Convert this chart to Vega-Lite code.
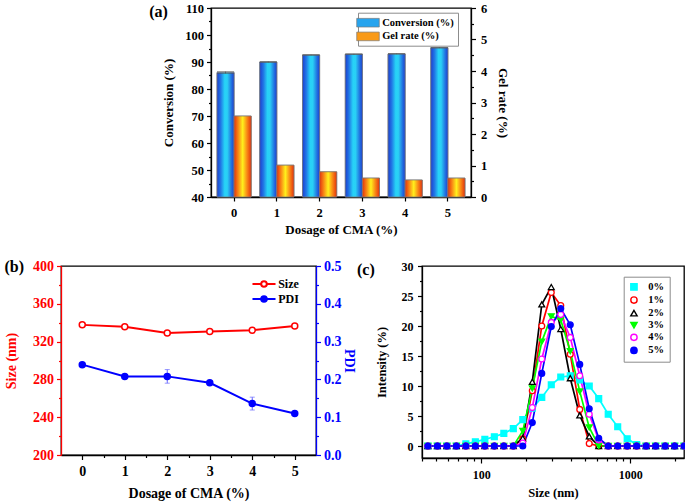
{
  "$schema": "https://vega.github.io/schema/vega-lite/v6.json",
  "padding": {"left": 3, "top": 1, "right": 0, "bottom": 0},
  "spacing": 20,
  "resolve": {"scale": {"fill": "independent", "stroke": "independent", "shape": "independent"}, "legend": {"fill": "independent", "stroke": "independent", "shape": "independent"}},
  "config": {
    "font": "Liberation Serif",
    "view": {"stroke": "#000000", "strokeWidth": 1.3},
    "axis": {"labelFont": "Liberation Serif", "titleFont": "Liberation Serif", "labelFontWeight": "bold", "titleFontWeight": "bold", "labelColor": "#000000", "titleColor": "#000000", "domainColor": "#000000", "tickColor": "#000000", "domainWidth": 1.3, "tickWidth": 1.2, "grid": false, "labelOverlap": false, "labelFlush": false, "labelBound": false},
    "legend": {"labelFont": "Liberation Serif", "labelFontWeight": "bold", "labelColor": "#000000"},
    "title": {"font": "Liberation Serif", "fontWeight": "bold", "fontSize": 16, "anchor": "start", "frame": "bounds", "color": "#000000", "baseline": "bottom", "offset": 0}
  },
  "vconcat": [
    {
      "spacing": 0,
      "resolve": {"scale": {"fill": "independent", "stroke": "independent", "shape": "independent"}, "legend": {"fill": "independent", "stroke": "independent", "shape": "independent"}},
      "hconcat": [
        {"width": 87, "height": 10, "data": {"values": []}, "mark": "point", "view": {"stroke": null}},
        {
          "width": 260, "height": 189,
          "title": {"text": "(a)", "dx": -13.5, "dy": 22},
          "data": {"values": [
            {"dosage": "0", "series": "Conversion (%)", "value": 86.1, "err": 0.35},
            {"dosage": "1", "series": "Conversion (%)", "value": 90.0, "err": 0.15},
            {"dosage": "2", "series": "Conversion (%)", "value": 92.6, "err": 0.1},
            {"dosage": "3", "series": "Conversion (%)", "value": 92.9, "err": 0.1},
            {"dosage": "4", "series": "Conversion (%)", "value": 93.0, "err": 0.1},
            {"dosage": "5", "series": "Conversion (%)", "value": 95.3, "err": 0.15},
            {"dosage": "0", "series": "Gel rate (%)", "value": 2.57, "err": 0},
            {"dosage": "1", "series": "Gel rate (%)", "value": 1.01, "err": 0},
            {"dosage": "2", "series": "Gel rate (%)", "value": 0.8, "err": 0},
            {"dosage": "3", "series": "Gel rate (%)", "value": 0.6, "err": 0},
            {"dosage": "4", "series": "Gel rate (%)", "value": 0.54, "err": 0},
            {"dosage": "5", "series": "Gel rate (%)", "value": 0.6, "err": 0}
          ]},
          "encoding": {
            "x": {"field": "dosage", "type": "ordinal", "scale": {"paddingInner": 0.2, "paddingOuter": 0.14}, "axis": {"title": "Dosage of CMA (%)", "labelAngle": 0, "tickSize": 4, "labelPadding": 5, "titlePadding": 5, "labelFontSize": 12.5, "titleFontSize": 13}},
            "xOffset": {"field": "series", "type": "nominal", "scale": {"domain": ["Conversion (%)", "Gel rate (%)"], "paddingInner": 0, "paddingOuter": 0}}
          },
          "layer": [
            {
              "transform": [{"filter": "datum.series === 'Conversion (%)'"}],
              "encoding": {"y": {"field": "value", "type": "quantitative", "title": "Conversion (%)", "scale": {"domain": [40, 110], "zero": false, "nice": false},
                "axis": {"orient": "left", "values": [40,45,50,55,60,65,70,75,80,85,90,95,100,105,110], "labelExpr": "datum.value % 10 === 0 ? format(datum.value,'d') : ''", "tickSize": {"condition": {"test": "datum.value % 10 === 0", "value": 4.5}, "value": 2.5}, "labelPadding": 3, "titlePadding": 9, "labelFontSize": 12.5, "titleFontSize": 13}}},
              "layer": [
                {"mark": {"type": "bar", "stroke": "#7a7a7a", "strokeWidth": 0.7},
                 "encoding": {"y2": {"datum": 40},
                   "fill": {"field": "series", "type": "nominal",
                     "scale": {"domain": ["Conversion (%)", "Gel rate (%)"], "range": ["#27a4ee", "#f99a18"]},
                     "legend": {"title": null, "orient": "none", "legendX": 147, "legendY": 4.7, "symbolType": "M-1.88,-0.72H1.88V0.72H-1.88Z", "symbolSize": 144, "symbolStrokeColor": "#7a7a7a", "symbolStrokeWidth": 0.7, "labelFontSize": 10.5, "labelOffset": 7.7, "rowPadding": 0.7, "padding": 3.5, "strokeColor": "#8c8c8c", "fillColor": "#ffffff"}}}},
                {"mark": {"type": "bar", "stroke": "#7a7a7a", "strokeWidth": 0.7,
                   "fill": {"gradient": "linear", "x1": 0, "y1": 0, "x2": 1, "y2": 0, "stops": [{"offset": 0, "color": "#1c3fd0"}, {"offset": 0.22, "color": "#2178e6"}, {"offset": 0.45, "color": "#27d2f7"}, {"offset": 0.6, "color": "#2ad0f5"}, {"offset": 0.85, "color": "#2170e0"}, {"offset": 1, "color": "#1c3fd0"}]}},
                 "encoding": {"y2": {"datum": 40}}},
                {"mark": {"type": "errorbar", "ticks": true, "color": "#555555", "thickness": 0.8}, "encoding": {"yError": {"field": "err"}}}
              ]
            },
            {
              "transform": [{"filter": "datum.series === 'Gel rate (%)'"}],
              "encoding": {"y": {"field": "value", "type": "quantitative", "title": "Gel rate (%)", "scale": {"domain": [0, 6], "nice": false},
                "axis": {"orient": "right", "values": [0,0.5,1,1.5,2,2.5,3,3.5,4,4.5,5,5.5,6], "labelExpr": "datum.value % 1 === 0 ? format(datum.value,'d') : ''", "tickSize": {"condition": {"test": "datum.value % 1 === 0", "value": 4.5}, "value": 2.5}, "labelPadding": 5, "titlePadding": 9, "labelFontSize": 12.5, "titleFontSize": 13}}},
              "layer": [
                {"mark": {"type": "bar", "stroke": "#7a7a7a", "strokeWidth": 0.7},
                 "encoding": {"fill": {"field": "series", "type": "nominal"}}},
                {"mark": {"type": "bar", "stroke": "#7a7a7a", "strokeWidth": 0.7,
                   "fill": {"gradient": "linear", "x1": 0, "y1": 0, "x2": 1, "y2": 0, "stops": [{"offset": 0, "color": "#e4320c"}, {"offset": 0.25, "color": "#f98a16"}, {"offset": 0.5, "color": "#fff01c"}, {"offset": 0.75, "color": "#f98a16"}, {"offset": 1, "color": "#e4320c"}]}}}
              ]
            }
          ],
          "resolve": {"scale": {"y": "independent"}}
        }
      ]
    },
    {
      "spacing": 0,
      "resolve": {"scale": {"fill": "independent", "stroke": "independent", "shape": "independent"}, "legend": {"fill": "independent", "stroke": "independent", "shape": "independent"}},
      "hconcat": [
        {
          "width": 255, "height": 189,
          "title": {"text": "(b)", "dx": 0, "dy": 20},
          "data": {"values": [
            {"dosage": 0, "series": "Size", "value": 337.7, "err": 0.5},
            {"dosage": 1, "series": "Size", "value": 335.6, "err": 0.5},
            {"dosage": 2, "series": "Size", "value": 329.2, "err": 0.5},
            {"dosage": 3, "series": "Size", "value": 330.6, "err": 0.5},
            {"dosage": 4, "series": "Size", "value": 332.0, "err": 0.5},
            {"dosage": 5, "series": "Size", "value": 336.6, "err": 0.5},
            {"dosage": 0, "series": "PDI", "value": 0.239, "err": 0.003},
            {"dosage": 1, "series": "PDI", "value": 0.208, "err": 0.003},
            {"dosage": 2, "series": "PDI", "value": 0.208, "err": 0.018},
            {"dosage": 3, "series": "PDI", "value": 0.191, "err": 0.004},
            {"dosage": 4, "series": "PDI", "value": 0.136, "err": 0.017},
            {"dosage": 5, "series": "PDI", "value": 0.110, "err": 0.003}
          ]},
          "encoding": {
            "x": {"field": "dosage", "type": "quantitative", "scale": {"domain": [-0.5, 5.5], "nice": false, "zero": false},
              "axis": {"title": "Dosage of CMA (%)", "values": [0,0.5,1,1.5,2,2.5,3,3.5,4,4.5,5], "labelExpr": "datum.value % 1 === 0 ? format(datum.value,'d') : ''", "tickSize": {"condition": {"test": "datum.value % 1 === 0", "value": 4.5}, "value": 2.5}, "labelPadding": 5, "titlePadding": 8, "labelFontSize": 14, "titleFontSize": 14}}
          },
          "layer": [
            {
              "transform": [{"filter": "datum.series === 'Size'"}],
              "encoding": {"y": {"field": "value", "type": "quantitative", "title": "Size (nm)", "scale": {"domain": [200, 400], "zero": false, "nice": false},
                "axis": {"orient": "left", "values": [200,220,240,260,280,300,320,340,360,380,400], "labelExpr": "datum.value % 40 === 0 ? format(datum.value,'d') : ''", "tickSize": {"condition": {"test": "datum.value % 40 === 0", "value": 4.5}, "value": 2.5}, "labelPadding": 3, "titlePadding": 14, "labelFontSize": 14, "titleFontSize": 14, "domainColor": "#ff0000", "tickColor": "#ff0000", "labelColor": "#ff0000", "titleColor": "#ff0000"}}},
              "layer": [
                {"mark": {"type": "line", "strokeWidth": 2},
                 "encoding": {"stroke": {"field": "series", "type": "nominal", "scale": {"domain": ["Size", "PDI"], "range": ["#ff0000", "#0000ff"]},
                   "legend": {"title": null, "orient": "none", "legendX": 196, "legendY": 11, "symbolSize": 144, "symbolType": "M-1.92,0H-0.47M0.47,0H1.92M-0.47,0A0.47,0.47 0 1,0 0.47,0A0.47,0.47 0 1,0 -0.47,0Z", "symbolStrokeWidth": 2, "labelFontSize": 12, "labelOffset": 7.2, "rowPadding": 1, "padding": 0}}}},
                {"mark": {"type": "point", "shape": "circle", "size": 36, "strokeWidth": 1.5, "opacity": 1},
                 "encoding": {"stroke": {"field": "series", "type": "nominal"}, "fill": {"field": "series", "type": "nominal", "scale": {"domain": ["Size", "PDI"], "range": ["#ffffff", "#0000ff"]}, "legend": null}}}
              ]
            },
            {
              "transform": [{"filter": "datum.series === 'PDI'"}],
              "encoding": {"y": {"field": "value", "type": "quantitative", "title": "PDI", "scale": {"domain": [0, 0.5], "nice": false},
                "axis": {"orient": "right", "values": [0,0.05,0.1,0.15,0.2,0.25,0.3,0.35,0.4,0.45,0.5], "labelExpr": "abs(datum.value*10 - round(datum.value*10)) < 0.001 ? format(datum.value,'.1f') : ''", "tickSize": {"condition": {"test": "abs(datum.value*10 - round(datum.value*10)) < 0.001", "value": 4.5}, "value": 2.5}, "labelPadding": 3, "titlePadding": 0, "labelFontSize": 14, "titleFontSize": 14, "domainColor": "#0000ff", "tickColor": "#0000ff", "labelColor": "#0000ff", "titleColor": "#0000ff"}}},
              "layer": [
                {"mark": {"type": "line", "strokeWidth": 2}, "encoding": {"stroke": {"field": "series", "type": "nominal"}}},
                {"mark": {"type": "errorbar", "ticks": true, "color": "#6a6aff", "thickness": 1}, "encoding": {"yError": {"field": "err"}}},
                {"mark": {"type": "point", "shape": "circle", "size": 36, "strokeWidth": 1.5, "opacity": 1},
                 "encoding": {"stroke": {"field": "series", "type": "nominal"}, "fill": {"field": "series", "type": "nominal", "legend": null}}}
              ]
            }
          ],
          "resolve": {"scale": {"y": "independent"}}
        },
        {
          "width": 262, "height": 192,
          "title": {"text": "(c)", "dx": -18, "dy": 22},
          "data": {"values": [
            {"size": 43.82, "0%": 0, "1%": 0, "2%": 0, "3%": 0, "4%": 0, "5%": 0},
            {"size": 50.75, "0%": 0, "1%": 0, "2%": 0, "3%": 0, "4%": 0, "5%": 0},
            {"size": 58.77, "0%": 0, "1%": 0, "2%": 0, "3%": 0, "4%": 0, "5%": 0},
            {"size": 68.06, "0%": 0, "1%": 0, "2%": 0, "3%": 0, "4%": 0, "5%": 0},
            {"size": 78.82, "0%": 0.35, "1%": 0, "2%": 0, "3%": 0, "4%": 0, "5%": 0},
            {"size": 91.28, "0%": 0.7, "1%": 0, "2%": 0, "3%": 0, "4%": 0, "5%": 0},
            {"size": 105.7, "0%": 1.1, "1%": 0, "2%": 0, "3%": 0, "4%": 0, "5%": 0},
            {"size": 122.4, "0%": 1.55, "1%": 0, "2%": 0, "3%": 0, "4%": 0, "5%": 0},
            {"size": 141.8, "0%": 2.1, "1%": 0, "2%": 0, "3%": 0, "4%": 0, "5%": 0},
            {"size": 164.2, "0%": 2.9, "1%": 0, "2%": 0, "3%": 0, "4%": 0, "5%": 0},
            {"size": 190.1, "0%": 4.4, "1%": 1.2, "2%": 1.3, "3%": 2.5, "4%": 0.5, "5%": 0},
            {"size": 220.2, "0%": 6.3, "1%": 9.2, "2%": 10.7, "3%": 9.6, "4%": 6.4, "5%": 3.9},
            {"size": 255.0, "0%": 8.1, "1%": 20.0, "2%": 23.6, "3%": 17.4, "4%": 14.5, "5%": 12.1},
            {"size": 295.3, "0%": 10.2, "1%": 25.6, "2%": 26.5, "3%": 21.6, "4%": 20.6, "5%": 19.9},
            {"size": 342.0, "0%": 11.5, "1%": 23.4, "2%": 19.5, "3%": 21.0, "4%": 21.9, "5%": 22.9},
            {"size": 396.1, "0%": 11.7, "1%": 15.3, "2%": 11.3, "3%": 15.8, "4%": 18.1, "5%": 20.2},
            {"size": 458.7, "0%": 11.0, "1%": 6.1, "2%": 5.1, "3%": 9.1, "4%": 11.7, "5%": 13.6},
            {"size": 531.2, "0%": 10.0, "1%": 0.4, "2%": 1.6, "3%": 3.1, "4%": 5.3, "5%": 6.2},
            {"size": 615.1, "0%": 7.9, "1%": 0, "2%": 0, "3%": 0, "4%": 1.0, "5%": 1.3},
            {"size": 712.4, "0%": 5.3, "1%": 0, "2%": 0, "3%": 0, "4%": 0, "5%": 0},
            {"size": 825.0, "0%": 3.2, "1%": 0, "2%": 0, "3%": 0, "4%": 0, "5%": 0},
            {"size": 955.4, "0%": 1.2, "1%": 0, "2%": 0, "3%": 0, "4%": 0, "5%": 0},
            {"size": 1106, "0%": 0.25, "1%": 0, "2%": 0, "3%": 0, "4%": 0, "5%": 0},
            {"size": 1281, "0%": 0, "1%": 0, "2%": 0, "3%": 0, "4%": 0, "5%": 0},
            {"size": 1484, "0%": 0, "1%": 0, "2%": 0, "3%": 0, "4%": 0, "5%": 0},
            {"size": 1718, "0%": 0, "1%": 0, "2%": 0, "3%": 0, "4%": 0, "5%": 0},
            {"size": 1990, "0%": 0, "1%": 0, "2%": 0, "3%": 0, "4%": 0, "5%": 0},
            {"size": 2305, "0%": 0, "1%": 0, "2%": 0, "3%": 0, "4%": 0, "5%": 0}
          ]},
          "transform": [{"fold": ["0%", "1%", "2%", "3%", "4%", "5%"], "as": ["series", "intensity"]}],
          "encoding": {
            "x": {"field": "size", "type": "quantitative", "title": "Size (nm)", "scale": {"type": "log", "domain": [40, 2300], "nice": false},
              "axis": {"values": [40,50,60,70,80,90,100,200,300,400,500,600,700,800,900,1000,2000], "labelExpr": "datum.value === 100 || datum.value === 1000 ? format(datum.value,'d') : ''", "tickSize": {"condition": {"test": "datum.value === 100 || datum.value === 1000", "value": 5}, "value": 3}, "labelPadding": 6, "titlePadding": 6, "labelFontSize": 12, "titleFontSize": 12.5}},
            "y": {"field": "intensity", "type": "quantitative", "title": "Intensity (%)", "scale": {"domain": [-2, 30], "zero": false, "nice": false},
              "axis": {"values": [0,2.5,5,7.5,10,12.5,15,17.5,20,22.5,25,27.5,30], "labelExpr": "datum.value % 5 === 0 ? format(datum.value,'d') : ''", "tickSize": {"condition": {"test": "datum.value % 5 === 0", "value": 4.5}, "value": 2.5}, "labelPadding": 4.5, "titlePadding": 13, "labelFontSize": 12, "titleFontSize": 12.5}},
            "stroke": {"field": "series", "type": "nominal", "scale": {"domain": ["0%", "1%", "2%", "3%", "4%", "5%"], "range": ["#00ffff", "#ff0000", "#000000", "#00ff00", "#ff00ff", "#0000ff"]},
              "legend": {"title": null, "orient": "none", "legendX": 201.7, "legendY": 10.7, "symbolSize": 40, "symbolStrokeWidth": 1.4, "labelFontSize": 10.5, "labelOffset": 9, "rowPadding": 0.1, "padding": 5, "strokeColor": "#8c8c8c", "fillColor": "#ffffff"}}
          },
          "layer": [
            {"mark": {"type": "line", "strokeWidth": 1.7}},
            {"mark": {"type": "point", "size": 34, "strokeWidth": 1.3, "opacity": 1},
             "encoding": {
               "shape": {"field": "series", "type": "nominal", "scale": {"domain": ["0%", "1%", "2%", "3%", "4%", "5%"], "range": ["square", "circle", "triangle-up", "triangle-down", "circle", "circle"]}, "legend": null},
               "fill": {"field": "series", "type": "nominal", "scale": {"domain": ["0%", "1%", "2%", "3%", "4%", "5%"], "range": ["#00ffff", "#ffffff", "#ffffff", "#00ff00", "#ffffff", "#0000ff"]}, "legend": null}}}
          ]
        }
      ]
    }
  ]
}
